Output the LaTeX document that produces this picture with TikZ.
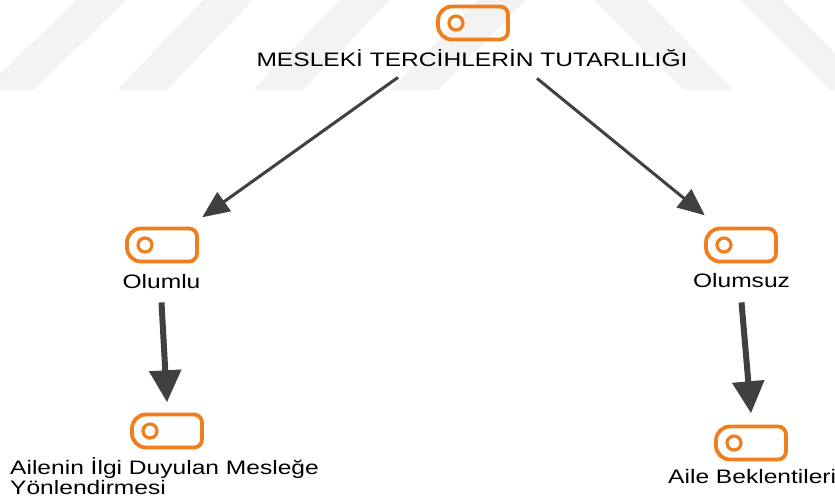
\documentclass[tikz,border=0pt]{standalone}
\usepackage{fontspec}
\setmainfont[FakeStretch=1.26]{Liberation Sans}
\usetikzlibrary{arrows.meta,positioning}

\begin{document}
\begin{tikzpicture}[x=1pt, y=-1pt,
		labeltext/.style={inner sep=0pt, font=\fontsize{19.5}{18}\selectfont},
		leadarrow/.style={draw=arrowGrey, line width=3pt, -{Triangle[length=27pt,width=23pt]}},
		dropArrow/.style={draw=arrowGrey, line width=6pt, -{Triangle[length=32pt,width=31pt]}},
		tagicon/.pic={
			\draw[color=tagColour, line width=3.8pt] (0,16.5) [rounded corners=14pt] -| (-35,-16.5) -- (0,-16.5) [rounded corners=8pt] -| (35,16.5) -- cycle;
			\draw[color=tagColour, line width=3.2pt] (-17,0) circle (7pt);
			\node[inner sep=0pt, minimum width=70pt, minimum height=33pt] (-box) {};
		}]
					\definecolor{tagColour}{RGB}{239, 126, 30}
					\definecolor{arrowGrey}{RGB}{64, 64, 64}
					\definecolor{stripeColour}{RGB}{243, 243, 243}

					\useasboundingbox (0,0) rectangle (835,500);
					\fill[white] (0,0) rectangle (835,500);

					% faint stripes behind the top
					\fill[stripeColour] (77,0) -- (127,0) -- (33,90) -- (-17,90) -- cycle;
					\fill[stripeColour] (203,0) -- (253,0) -- (167,90) -- (117,90) -- cycle;
					\fill[stripeColour] (340,0) -- (390,0) -- (303,90) -- (253,90) -- cycle;
					\fill[stripeColour] (478,0) -- (526,0) -- (438,90) -- (390,90) -- cycle;
					\fill[stripeColour] (593,0) -- (647,0) -- (733,90) -- (683,90) -- cycle;
					\fill[stripeColour] (740,0) -- (782,0) -- (872,90) -- (830,90) -- cycle;

					\pic (top) at (473,23) {tagicon};
					\node[labeltext, anchor=base] (title) at (472,67) {MESLEKİ TERCİHLERİN TUTARLILIĞI};

					\pic (olumluIcon) at (162,245) {tagicon};
					\node[labeltext, anchor=base] (olumlu) at (161.5,288) {Olumlu};

					\pic (olumsuzIcon) at (741,245) {tagicon};
					\node[labeltext, anchor=base] (olumsuz) at (741.5,287) {Olumsuz};

					\pic (ilgiIcon) at (167,431) {tagicon};
					\node[labeltext, anchor=base west, align=left] (ilgi) at (10,494) {Ailenin İlgi Duyulan Mesleğe\\Yönlendirmesi};

					\pic (beklentiIcon) at (751,443) {tagicon};
					\node[labeltext, anchor=base west] (beklenti) at (668,483) {Aile Beklentileri};

					\draw[leadarrow] ([xshift=-74pt,yshift=-10pt]title.south) -- ([xshift=5pt,yshift=11pt]olumluIcon-box.north east);
					\draw[leadarrow] ([xshift=65pt,yshift=-11pt]title.south) -- ([xshift=-1pt,yshift=13pt]olumsuzIcon-box.north west);

					\draw[dropArrow] ([yshift=-14pt]olumlu.south) -- ([yshift=12pt]ilgiIcon-box.north);
					\draw[dropArrow] ([yshift=-15pt]olumsuz.south) -- ([yshift=13pt]beklentiIcon-box.north);
				\end{tikzpicture}
\end{document}
